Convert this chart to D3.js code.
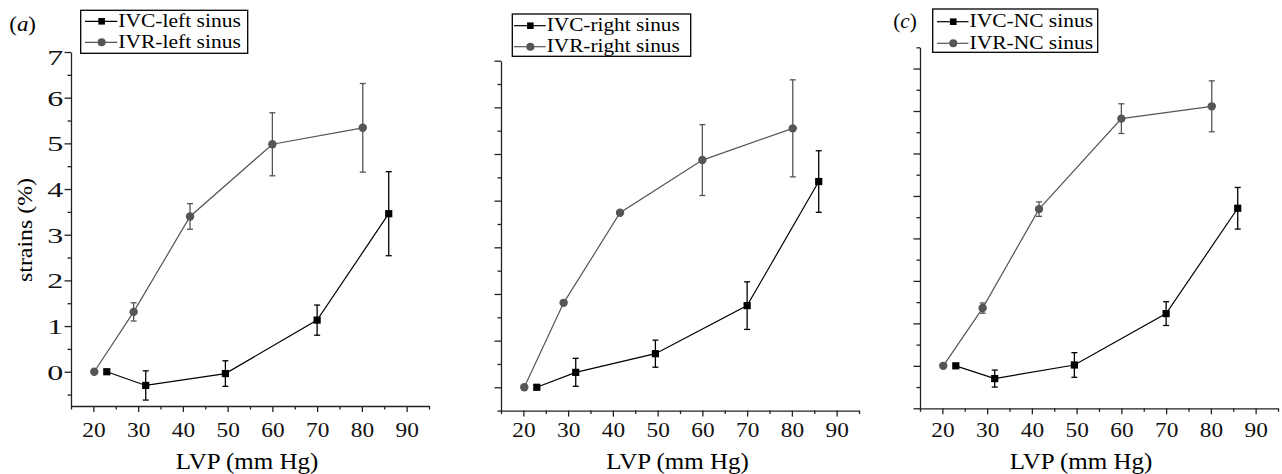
<!DOCTYPE html>
<html>
<head>
<meta charset="utf-8">
<script src="https://cdn.jsdelivr.net/npm/d3@7"></script>
<style>
  body { margin: 0; background: #fff; }
  svg { display: block; font-family: "Liberation Serif", "Times New Roman", serif; }
  .axis path, .axis line { stroke: #222; stroke-width: 1.3px; }
  .axis text { font-family: "Liberation Serif", serif; fill: #111; }
</style>
</head>
<body>
<svg width="1282" height="474"></svg>
<script>
// LVP pressures (mm Hg) for each condition
const lvpIVC = [23, 31.7, 49.5, 70, 86];
const lvpIVR = [20.2, 29, 41.6, 60, 80.2];

// (a) left sinus
const ivcLeft = [0, -0.3, -0.04, 1.13, 3.46];
const ivcLeftErr = [0, 0.32, 0.28, 0.33, 0.92];
const ivrLeft = [0, 1.31, 3.40, 4.98, 5.34];
const ivrLeftErr = [0, 0.2, 0.28, 0.69, 0.97];

// (b) right sinus
const ivcRight = [0, 0.32, 0.72, 1.75, 4.41];
const ivcRightErr = [0, 0.3, 0.29, 0.51, 0.66];
const ivrRight = [0, 1.81, 3.74, 4.87, 5.55];
const ivrRightErr = [0, 0, 0, 0.76, 1.04];

// (c) NC sinus
const ivcNC = [0, -0.3, 0.02, 1.23, 3.71];
const ivcNCErr = [0, 0.2, 0.29, 0.28, 0.49];
const ivrNC = [0, 1.36, 3.69, 5.82, 6.11];
const ivrNCErr = [0, 0.12, 0.17, 0.35, 0.6];

const xMajor = [20, 30, 40, 50, 60, 70, 80, 90];
const xMinor = [15, 25, 35, 45, 55, 65, 75, 85, 95];
const xTitle = "LVP (mm Hg)";
const yTitle = "strains (%)";

const ivcColor = "#000";
const ivrColor = "#555";

const svg = d3.select("svg");

const panels = [
    {tag: "(a)", tagX: 9.3, tagY: 31, tagW: 26.7,
     x0: 71, x1: 429, yb: 406, yt: 52, yDomain: [-0.75, 7], yLabels: true, titleDx: -3,
     legend: {x: 80.7, y: 10.3, w: 167, h: 43, lx: 85, tx: 118.3, r1: 21.3, r2: 42.3, tw: 122.5},
     names: ["IVC-left sinus", "IVR-left sinus"],
     ivc: ivcLeft, ivcErr: ivcLeftErr, ivr: ivrLeft, ivrErr: ivrLeftErr},
    {tag: null,
     x0: 501, x1: 859, yb: 410.6, yt: 60.7, yDomain: [-0.5, 7], yLabels: false, titleDx: -2.5,
     legend: {x: 512.3, y: 14, w: 178.4, h: 42.3, lx: 514, tx: 546.7, r1: 25.7, r2: 46.7, tw: 133},
     names: ["IVC-right sinus", "IVR-right sinus"],
     ivc: ivcRight, ivcErr: ivcRightErr, ivr: ivrRight, ivrErr: ivrRightErr},
    {tag: "(c)", tagX: 893.3, tagY: 28, tagW: 23.5,
     x0: 920, x1: 1278, yb: 408.3, yt: 47.3, yDomain: [-1, 7.5], yLabels: false, titleDx: -18,
     legend: {x: 932.7, y: 9, w: 165, h: 43.3, lx: 937, tx: 969.5, r1: 21.7, r2: 43.3, tw: 123.5},
     names: ["IVC-NC sinus", "IVR-NC sinus"],
     ivc: ivcNC, ivcErr: ivcNCErr, ivr: ivrNC, ivrErr: ivrNCErr}
];

function fitText(sel, w) {
    return sel.attr("textLength", w).attr("lengthAdjust", "spacingAndGlyphs");
}

panels.forEach(p => {
    const x = d3.scaleLinear().domain([15, 95]).range([p.x0, p.x1]);
    const y = d3.scaleLinear().domain(p.yDomain).range([p.yb, p.yt]);

    const yMajor = d3.range(Math.ceil(p.yDomain[0]), Math.floor(p.yDomain[1]) + 1);
    const yMinor = d3.range(-0.5, p.yDomain[1] + 0.01, 1);

    const g = svg.append("g");

    // x axis: minor then major
    g.append("g").attr("class", "axis")
        .attr("transform", `translate(0,${p.yb})`)
        .call(d3.axisBottom(x).tickValues(xMinor).tickSize(3.5).tickSizeOuter(0).tickFormat(""));
    const xa = g.append("g").attr("class", "axis")
        .attr("transform", `translate(0,${p.yb})`)
        .call(d3.axisBottom(x).tickValues(xMajor).tickSize(6).tickSizeOuter(0).tickFormat(d3.format("d")));
    xa.select(".domain").remove();
    xa.selectAll("text")
        .attr("y", 437 - p.yb).attr("dy", 0)
        .style("font-size", "22px")
        .call(fitText, 23.3);

    // y axis
    g.append("g").attr("class", "axis")
        .attr("transform", `translate(${p.x0},0)`)
        .call(d3.axisLeft(y).tickValues(yMinor).tickSize(3.5).tickSizeOuter(0).tickFormat(""));
    const ya = g.append("g").attr("class", "axis")
        .attr("transform", `translate(${p.x0},0)`)
        .call(d3.axisLeft(y).tickValues(yMajor).tickSize(6.5).tickSizeOuter(0)
            .tickFormat(p.yLabels ? d3.format("d") : ""));
    ya.select(".domain").remove();
    ya.selectAll("text")
        .attr("x", -7.7)
        .attr("dy", d => d === 7 ? "0.6em" : "0.35em")
        .style("font-size", "21.5px")
        .call(fitText, 16);

    // x title
    g.append("text")
        .attr("x", (p.x0 + p.x1) / 2 + p.titleDx)
        .attr("y", 469)
        .attr("text-anchor", "middle")
        .style("font-size", "24px")
        .text(xTitle)
        .call(fitText, 142.5);

    if (p.yLabels) {
        g.append("text")
            .attr("transform", `translate(32,230) rotate(-90)`)
            .attr("text-anchor", "middle")
            .style("font-size", "22px")
            .text(yTitle)
            .call(fitText, 104);
    }

    // series
    const series = [
        {xs: lvpIVC, ys: p.ivc, err: p.ivcErr, color: ivcColor, shape: "square"},
        {xs: lvpIVR, ys: p.ivr, err: p.ivrErr, color: ivrColor, shape: "circle"}
    ];

    const line = d3.line().x(d => x(d.x)).y(d => y(d.y));

    series.forEach(s => {
        const pts = s.xs.map((v, i) => ({x: v, y: s.ys[i], e: s.err[i]}));

        g.append("path")
            .datum(pts)
            .attr("d", line)
            .attr("fill", "none")
            .attr("stroke", s.color)
            .attr("stroke-width", 1.2);

        const eb = g.append("g").attr("stroke", s.color).attr("stroke-width", 1.3);
        pts.filter(d => d.e > 0).forEach(d => {
            eb.append("line").attr("x1", x(d.x)).attr("x2", x(d.x))
                .attr("y1", y(d.y - d.e)).attr("y2", y(d.y + d.e));
            [d.y - d.e, d.y + d.e].forEach(v => {
                eb.append("line").attr("x1", x(d.x) - 3).attr("x2", x(d.x) + 3)
                    .attr("y1", y(v)).attr("y2", y(v));
            });
        });

        if (s.shape === "square") {
            g.selectAll(null).data(pts).enter().append("rect")
                .attr("x", d => x(d.x) - 3.6).attr("y", d => y(d.y) - 3.6)
                .attr("width", 7.2).attr("height", 7.2)
                .attr("fill", s.color);
        } else {
            g.selectAll(null).data(pts).enter().append("circle")
                .attr("cx", d => x(d.x)).attr("cy", d => y(d.y))
                .attr("r", 4.2)
                .attr("fill", s.color);
        }
    });

    // legend
    const L = p.legend;
    const lg = svg.append("g");
    lg.append("rect")
        .attr("x", L.x).attr("y", L.y).attr("width", L.w).attr("height", L.h)
        .attr("fill", "white").attr("stroke", "#000").attr("stroke-width", 1.3);
    [L.r1, L.r2].forEach((ry, i) => {
        const c = i === 0 ? ivcColor : ivrColor;
        lg.append("line").attr("x1", L.lx).attr("x2", L.tx - 1)
            .attr("y1", ry).attr("y2", ry).attr("stroke", c).attr("stroke-width", 1.2);
        const mx = (L.lx + L.tx) / 2;
        if (i === 0) {
            lg.append("rect").attr("x", mx - 3.3).attr("y", ry - 3.3)
                .attr("width", 6.6).attr("height", 6.6).attr("fill", c);
        } else {
            lg.append("circle").attr("cx", mx).attr("cy", ry).attr("r", 4).attr("fill", c);
        }
        lg.append("text")
            .attr("x", L.tx).attr("y", ry + 5.6)
            .style("font-size", "19.5px")
            .text(p.names[i])
            .call(fitText, L.tw);
    });

    if (p.tag) {
        const t = svg.append("text")
            .attr("x", p.tagX).attr("y", p.tagY)
            .style("font-size", "21px")
            .call(fitText, p.tagW);
        t.append("tspan").text("(");
        t.append("tspan").style("font-style", "italic").text(p.tag.slice(1, 2));
        t.append("tspan").text(")");
    }
});
</script>
</body>
</html>
